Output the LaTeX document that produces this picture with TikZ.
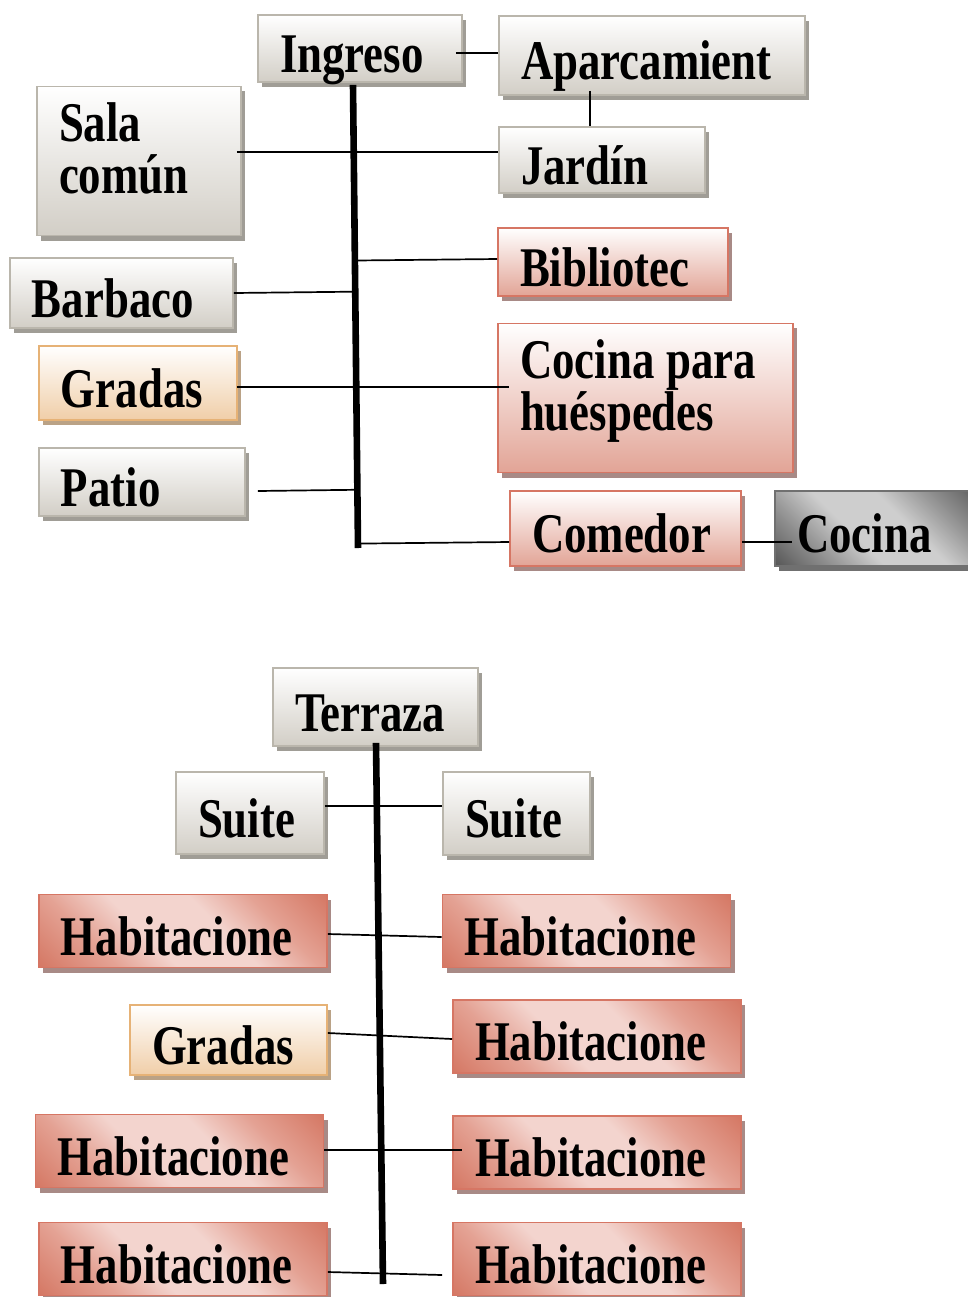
\documentclass[tikz,border=0pt]{standalone}
\usepackage{fontspec}
\setmainfont{Liberation Serif}[FakeStretch=0.8]
\usepackage{xcolor}
\usetikzlibrary{shadows, calc}

\definecolor{areabot}{RGB}{210,206,198}
\definecolor{arealine}{RGB}{186,182,172}
\definecolor{areashadow}{RGB}{160,157,150}
\definecolor{stairbot}{RGB}{240,206,168}
\definecolor{stairline}{RGB}{230,178,118}
\definecolor{stairshadow}{RGB}{186,162,134}
\definecolor{servbot}{RGB}{226,164,150}
\definecolor{servline}{RGB}{214,118,100}
\definecolor{servshadow}{RGB}{168,138,134}
\definecolor{roomdark}{RGB}{212,118,98}
\definecolor{roommid}{RGB}{228,162,148}
\definecolor{roomlight}{RGB}{243,212,206}
\definecolor{kitdark}{RGB}{84,84,84}
\definecolor{kitmid}{RGB}{150,150,150}
\definecolor{kitlight}{RGB}{206,206,206}
\definecolor{kitline}{RGB}{112,112,112}

\pgfdeclarehorizontalshading{roomshade}{100bp}{color(0bp)=(roomdark); color(14bp)=(roomdark);
  color(30bp)=(roommid); color(42bp)=(roomlight); color(58bp)=(roomlight); color(70bp)=(roommid);
  color(86bp)=(roomdark); color(100bp)=(roomdark)}
\pgfdeclarehorizontalshading{kitshade}{100bp}{color(0bp)=(kitdark); color(14bp)=(kitdark);
  color(30bp)=(kitmid); color(42bp)=(kitlight); color(58bp)=(kitlight); color(70bp)=(kitmid);
  color(86bp)=(kitdark); color(100bp)=(kitdark)}

\begin{document}
\begin{tikzpicture}[x=0.5pt, y=-0.5pt,
  base/.style={rectangle, line width=0.8pt, inner xsep=11pt, align=left,
    font=\fontsize{28}{26}\selectfont\bfseries, text height=24pt, text depth=0pt},
  twoline/.style={text depth=44pt},
  area/.style={base, draw=arealine, top color=white, bottom color=areabot,
    drop shadow={shadow xshift=2pt, shadow yshift=-2.5pt, fill=areashadow, opacity=1}},
  stairs/.style={base, draw=stairline, top color=white, bottom color=stairbot,
    drop shadow={shadow xshift=2pt, shadow yshift=-2.5pt, fill=stairshadow, opacity=1}},
  service/.style={base, draw=servline, top color=white, bottom color=servbot,
    drop shadow={shadow xshift=2pt, shadow yshift=-2.5pt, fill=servshadow, opacity=1}},
  room/.style={base, draw=servline, shade, shading=roomshade, shading angle=45,
    minimum width=144pt, minimum height=36.5pt, text width=122pt,
    drop shadow={shadow xshift=2pt, shadow yshift=-2.5pt, fill=servshadow, opacity=1}},
  kitchen/.style={base, draw=kitline, shade, shading=kitshade, shading angle=45,
    drop shadow={shadow xshift=2pt, shadow yshift=-2.5pt, fill=kitline, opacity=1}},
  link/.style={line width=0.85pt},
  spine/.style={line width=3.3pt}
]
  \useasboundingbox (0,0) rectangle (968,1297);

  \node[area, minimum width=102pt, minimum height=33.5pt, text width=80pt] (ingreso) at (360,48.5) {Ingreso};
  \node[area, minimum width=153pt, minimum height=39.5pt, text width=131pt] (aparc) at (652,55.5) {Aparcamient};
  \node[area, minimum width=103pt, minimum height=33pt, text width=81pt] (jardin) at (602,160) {Jardín};
  \node[area, twoline, minimum width=102pt, minimum height=71pt, text width=80pt] (sala) at (139,161) {Sala\\común};
  \node[area, minimum width=111.5pt, minimum height=35pt, text width=89.5pt] (barbaco) at (121.5,293) {Barbaco};
  \node[stairs, minimum width=99pt, minimum height=37pt, text width=77pt] (gradas) at (138,383) {Gradas};
  \node[area, minimum width=103pt, minimum height=34pt, text width=81pt] (patio) at (142,482) {Patio};
  \node[service, minimum width=115pt, minimum height=34pt, text width=93pt] (biblio) at (613,262) {Bibliotec};
  \node[service, twoline, minimum width=147.5pt, minimum height=74pt, text width=125.5pt] (cocinah) at (645.5,398) {Cocina\hspace{6pt}para\\huéspedes};
  \node[service, minimum width=115.5pt, minimum height=37.5pt, text width=93.5pt] (comedor) at (625.5,528.5) {Comedor};
  \node[kitchen, minimum width=105pt, minimum height=37.5pt, text width=83pt] (cocina) at (880,528.5) {Cocina};

  \coordinate (s1a) at ($(ingreso.south)+(-7,2)$);
  \coordinate (s1b) at (358,548);
  \draw[spine] (s1a) -- (s1b);

  \draw[link] ($(ingreso.east)+(-7,4.5)$) -- ($(aparc.west)+(0,-2.5)$);
  \draw[link] ($(aparc.south)+(-62,-5)$) -- ($(jardin.north)+(-12,0)$);
  \draw[link] ($(sala.east)+(-5,-9)$) -- ($(jardin.west)+(0,-8)$);
  \draw[link] ($(s1a)!(biblio.west)!(s1b)+(0,-3)$) -- ($(biblio.west)+(0,-3)$);
  \draw[link] (barbaco.east) -- ($(s1a)!(barbaco.east)!(s1b)$);
  \draw[link] ($(gradas.east)+(-1,4)$) -- ($(cocinah.west)+(12,-11)$);
  \draw[link] ($(patio.east)+(12,9)$) -- ($(s1a)!(patio.east)!(s1b)+(0,9)$);
  \draw[link] ($(s1a)!(comedor.west)!(s1b)+(0,13.5)$) -- ($(comedor.west)+(0,13.5)$);
  \draw[link] ($(comedor.east)+(0,13.5)$) -- ($(cocina.west)+(18,13.5)$);

  \node[area, minimum width=102.5pt, minimum height=39pt, text width=80.5pt] (terraza) at (375.5,707) {Terraza};
  \node[area, minimum width=74pt, minimum height=41pt, text width=52pt] (suite1) at (250,813) {Suite};
  \node[area, minimum width=73.5pt, minimum height=41.5pt, text width=51.5pt] (suite2) at (516.5,813.5) {Suite};
  \node[room] (hab1) at (183,931) {Habitacione};
  \node[room] (hab2) at (586.5,931) {Habitacione};
  \node[stairs, minimum width=98.5pt, minimum height=35pt, text width=76.5pt] (gradas2) at (228.5,1040) {Gradas};
  \node[room] (hab3) at (597,1036.5) {Habitacione};
  \node[room] (hab4) at (179.5,1151) {Habitacione};
  \node[room] (hab5) at (597,1152.5) {Habitacione};
  \node[room] (hab6) at (183,1259) {Habitacione};
  \node[room] (hab7) at (597,1259) {Habitacione};

  \coordinate (s2a) at ($(terraza.south)+(0.5,-4)$);
  \coordinate (s2b) at (383,1284);
  \draw[spine] (s2a) -- (s2b);

  \draw[link] ($(suite1.east)+(0,-7)$) -- ($(suite2.west)+(0,-7.5)$);
  \draw[link] ($(hab1.east)+(0,3)$) -- ($(hab2.west)+(0,6)$);
  \draw[link] ($(gradas2.east)+(0,-7)$) -- ($(hab3.west)+(0,2.5)$);
  \draw[link] ($(hab4.east)+(0,-1)$) -- ($(hab5.west)+(10,-2.5)$);
  \draw[link] ($(hab6.east)+(0,13)$) -- ($(hab7.west)+(-10,16)$);
\end{tikzpicture}
\end{document}
